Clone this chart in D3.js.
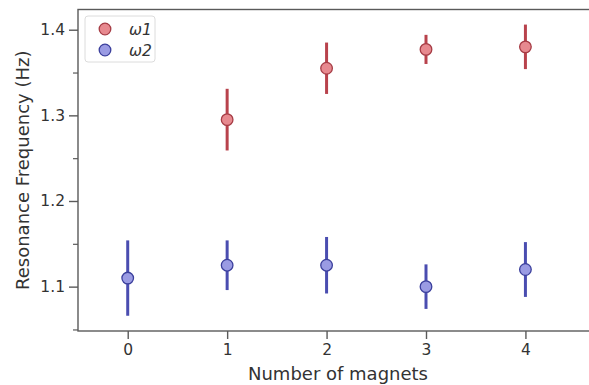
<!DOCTYPE html>
<html>
<head>
<meta charset="utf-8">
<script src="https://cdn.jsdelivr.net/npm/d3@7"></script>
<style>
  html, body { margin: 0; padding: 0; background: #fff; }
  svg { display: block; font-family: "DejaVu Sans", sans-serif; }
</style>
</head>
<body>
<svg id="chart" width="589" height="385"></svg>
<script>
// Number of magnets on the x axis
const magnets1 = [1, 2, 3, 4];
const magnets2 = [0, 1, 2, 3, 4];

// First resonance mode (ω1): mean and error half-width
const omega1 = [1.295, 1.355, 1.377, 1.380];
const omega1Err = [0.036, 0.030, 0.017, 0.026];

// Second resonance mode (ω2): mean and error half-width
const omega2 = [1.110, 1.125, 1.125, 1.100, 1.120];
const omega2Err = [0.044, 0.029, 0.033, 0.026, 0.032];

const xTicks = [0, 1, 2, 3, 4];
const yTicks = [1.1, 1.2, 1.3, 1.4];
const yMinorTicks = [1.05, 1.15, 1.25, 1.35];

const seriesNames = ["ω1", "ω2"];

const svg = d3.select("#chart");
const plotLeft = 78, plotTop = 9.5, plotRight = 600, plotBottom = 331;

const x = d3.scaleLinear().domain([-0.5, 4.75]).range([plotLeft, plotRight]);
const y = d3.scaleLinear().domain([1.0482, 1.4236]).range([plotBottom, plotTop]);

const spineColor = "#5a5a5a";
const textColor = "#333";

const styles = [
  { fill: "#e7898f", stroke: "#a63c45", bar: "#b8424c" },
  { fill: "#9a9be3", stroke: "#3b3f9c", bar: "#4a4db0" }
];

// Frame (right edge sits outside the visible area)
svg.append("rect")
  .attr("x", plotLeft).attr("y", plotTop)
  .attr("width", plotRight - plotLeft).attr("height", plotBottom - plotTop)
  .attr("fill", "none").attr("stroke", spineColor).attr("stroke-width", 1.4);

// Y axis: major and minor ticks
const yAxis = d3.axisLeft(y).tickValues(yTicks).tickFormat(d3.format(".1f"))
  .tickSize(9).tickPadding(4);
const gy = svg.append("g").attr("transform", `translate(${plotLeft},0)`).call(yAxis);
gy.select(".domain").remove();
gy.selectAll(".tick line").attr("stroke", spineColor).attr("stroke-width", 1.4);
gy.selectAll(".tick text").attr("fill", textColor).attr("font-size", 15.5)
  .attr("font-family", "DejaVu Sans");

const yMinor = d3.axisLeft(y).tickValues(yMinorTicks).tickFormat("").tickSize(5);
const gym = svg.append("g").attr("transform", `translate(${plotLeft},0)`).call(yMinor);
gym.select(".domain").remove();
gym.selectAll(".tick line").attr("stroke", spineColor).attr("stroke-width", 1.2);

// X axis
const xAxis = d3.axisBottom(x).tickValues(xTicks).tickFormat(d3.format("d"))
  .tickSize(8).tickPadding(5);
const gx = svg.append("g").attr("transform", `translate(0,${plotBottom})`).call(xAxis);
gx.select(".domain").remove();
gx.selectAll(".tick line").attr("stroke", spineColor).attr("stroke-width", 1.4);
gx.selectAll(".tick text").attr("fill", textColor).attr("font-size", 15.5)
  .attr("font-family", "DejaVu Sans");

// Axis titles
svg.append("text")
  .attr("x", (plotLeft + plotRight) / 2 - 1).attr("y", 380)
  .attr("text-anchor", "middle").attr("fill", textColor)
  .attr("font-size", 18).text("Number of magnets");

svg.append("text")
  .attr("transform", `translate(29,${(plotTop + plotBottom) / 2}) rotate(-90)`)
  .attr("text-anchor", "middle").attr("fill", textColor)
  .attr("font-size", 18).text("Resonance Frequency (Hz)");

// Error bars with point markers
function drawSeries(xs, ys, errs, st) {
  const g = svg.append("g");
  const data = xs.map((d, i) => ({ x: d, y: ys[i], e: errs[i] }));
  g.selectAll("line.err").data(data).join("line")
    .attr("class", "err")
    .attr("x1", d => x(d.x)).attr("x2", d => x(d.x))
    .attr("y1", d => y(d.y - d.e)).attr("y2", d => y(d.y + d.e))
    .attr("stroke", st.bar).attr("stroke-width", 3);
  g.selectAll("circle").data(data).join("circle")
    .attr("cx", d => x(d.x)).attr("cy", d => y(d.y)).attr("r", 5.8)
    .attr("fill", st.fill).attr("stroke", st.stroke).attr("stroke-width", 1.3);
}
drawSeries(magnets1, omega1, omega1Err, styles[0]);
drawSeries(magnets2, omega2, omega2Err, styles[1]);

// Legend
const lg = svg.append("g");
lg.append("rect")
  .attr("x", 85).attr("y", 16).attr("width", 70).attr("height", 46)
  .attr("rx", 3).attr("fill", "#fff").attr("fill-opacity", 0.8)
  .attr("stroke", "#dcdcdc").attr("stroke-width", 1);
seriesNames.forEach((name, i) => {
  const cy = 29 + i * 21;
  lg.append("circle").attr("cx", 105).attr("cy", cy).attr("r", 5.8)
    .attr("fill", styles[i].fill).attr("stroke", styles[i].stroke).attr("stroke-width", 1.3);
  lg.append("text").attr("x", 129).attr("y", cy + 5.5)
    .attr("fill", textColor).attr("font-size", 15.5).attr("font-style", "italic")
    .text(name);
});
</script>
</body>
</html>
